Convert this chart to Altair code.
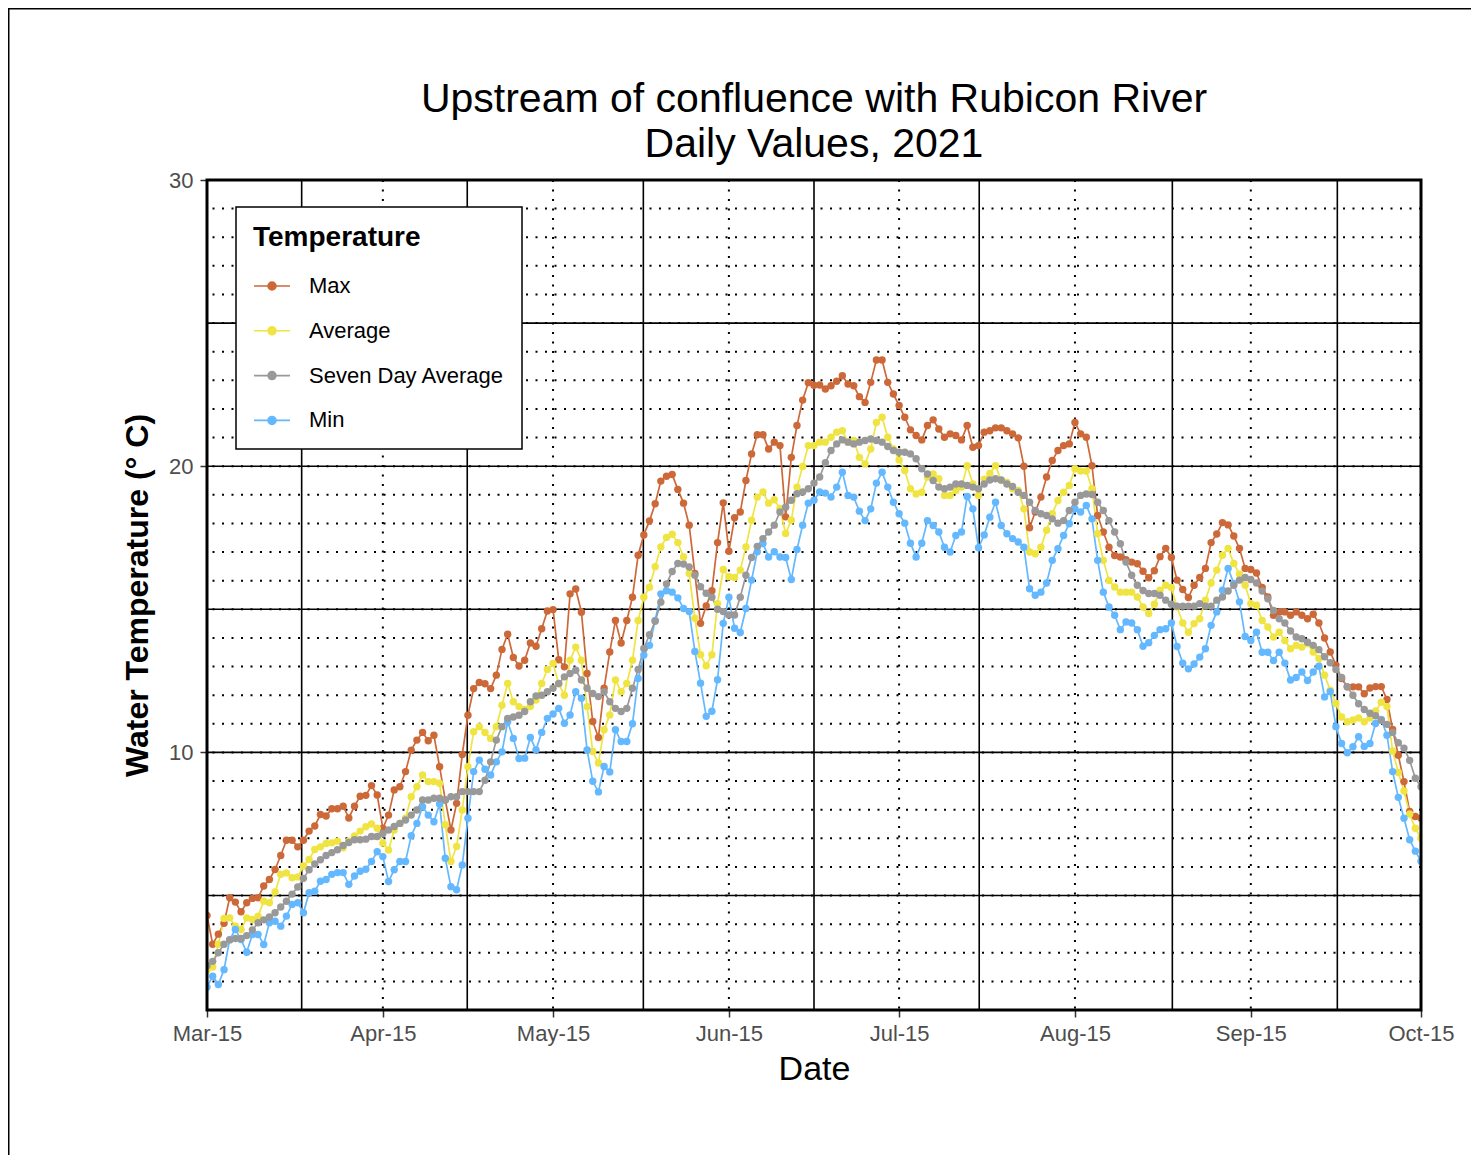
import altair as alt
import pandas as pd

# ---------------- data ----------------
series_names = ["Max", "Average", "Seven Day Average", "Min"]
series_colors = ["#CD6839", "#F0E442", "#999999", "#63B8FF"]
draw_order = ["Max", "Average", "Min", "Seven Day Average"]

title_lines = ["Upstream of confluence with Rubicon River", "Daily Values, 2021"]

max_temp = [
    4.3, 3.3, 3.65, 4.03, 4.92, 4.77, 4.43, 4.75, 4.9, 4.92, 5.33, 5.56, 5.91, 6.4, 6.93,
    6.93, 6.7, 6.93, 7.25, 7.43, 7.83, 7.78, 8.03, 8.03, 8.12, 7.71, 8.12, 8.47, 8.5, 8.84,
    8.51, 7.35, 7.81, 8.69, 8.8, 9.33, 10.08, 10.43, 10.7, 10.41, 10.6, 9.5, 8.34, 7.29, 8.22,
    9.93, 11.3, 12.23, 12.44, 12.4, 12.23, 12.7, 13.6, 14.13, 13.32, 13.02, 13.22, 13.82, 13.71, 14.32,
    14.94, 14.99, 13.24, 12.99, 15.54, 15.71, 14.9, 12.76, 11.08, 10.52, 12.24, 13.51, 14.61, 13.82, 14.61,
    15.42, 16.89, 17.6, 18.09, 18.69, 19.48, 19.65, 19.71, 19.19, 18.71, 17.94, 16.25, 14.51, 15.12, 15.65,
    17.33, 18.72, 17.03, 18.2, 18.4, 19.5, 20.43, 21.1, 21.1, 20.6, 20.84, 20.72, 18.23, 20.31, 21.42,
    22.31, 22.92, 22.83, 22.84, 22.7, 22.81, 22.97, 23.16, 22.87, 22.81, 22.43, 22.23, 22.93, 23.71, 23.71,
    22.93, 22.52, 22.12, 21.71, 21.27, 21.07, 20.92, 21.42, 21.62, 21.3, 21.01, 21.13, 21.07, 20.92, 21.42,
    20.66, 20.72, 21.19, 21.24, 21.34, 21.34, 21.24, 21.13, 20.99, 20.0, 17.85, 18.4, 18.92, 19.62, 20.2,
    20.55, 20.72, 20.78, 21.53, 21.13, 21.01, 20.02, 18.28, 17.7, 17.17, 16.88, 16.83, 16.73, 16.65, 16.59,
    16.33, 16.1, 16.35, 16.84, 17.13, 16.81, 16.02, 15.69, 15.41, 15.84, 16.11, 16.43, 17.33, 17.63, 18.03,
    17.95, 17.56, 17.13, 16.43, 16.39, 16.27, 15.76, 15.43, 14.79, 14.91, 14.91, 14.79, 14.91, 14.79, 14.67,
    14.83, 14.52, 14.0, 13.51, 13.05, 12.58, 12.29, 12.29, 12.29, 12.05, 12.25, 12.3, 12.3, 11.85, 10.8,
    9.9, 8.98, 7.94, 7.76, 7.7,
]

avg_temp = [
    2.4, 2.5, 3.3, 4.2, 4.22, 3.93, 3.81, 4.22, 4.16, 4.28, 4.8, 4.75, 5.12, 5.74, 5.79,
    5.62, 5.65, 6.03, 6.26, 6.61, 6.7, 6.82, 6.84, 6.9, 6.67, 6.9, 7.08, 7.25, 7.4, 7.5,
    7.35, 6.83, 6.59, 7.29, 7.52, 7.7, 8.45, 8.8, 9.21, 8.98, 8.98, 8.92, 7.47, 6.19, 6.71,
    7.99, 9.5, 10.72, 10.9, 10.7, 10.49, 10.9, 11.65, 12.41, 11.77, 11.6, 11.5, 11.6, 11.83, 12.41,
    12.9, 13.11, 12.4, 12.0, 13.22, 13.68, 13.22, 11.6, 10.03, 9.63, 10.79, 11.31, 12.53, 12.12, 12.41,
    13.22, 14.61, 15.42, 15.77, 16.49, 17.18, 17.51, 17.62, 17.33, 16.83, 16.25, 14.69, 13.41, 13.03, 13.41,
    15.2, 16.39, 16.14, 16.11, 16.37, 17.18, 18.11, 18.92, 19.1, 18.71, 18.83, 18.52, 17.65, 18.11, 19.27,
    19.99, 20.72, 20.72, 20.84, 20.84, 21.01, 21.19, 21.24, 20.84, 20.9, 20.31, 20.08, 20.6, 21.53, 21.71,
    21.01, 20.6, 20.22, 19.85, 19.21, 19.03, 19.09, 19.62, 19.73, 19.56, 18.98, 18.98, 19.15, 19.27, 20.02,
    19.38, 18.98, 19.55, 19.75, 20.02, 19.5, 19.44, 19.21, 19.15, 18.51, 17.0, 16.94, 17.17, 17.76, 18.34,
    18.8, 19.09, 19.33, 19.91, 19.83, 19.83, 19.21, 17.64, 16.71, 16.01, 15.78, 15.6, 15.6, 15.6, 15.43,
    15.08, 14.85, 15.18, 15.67, 15.84, 15.76, 15.08, 14.52, 14.2, 14.5, 14.67, 15.32, 15.92, 16.37, 16.89,
    17.13, 16.6, 16.23, 15.84, 15.2, 15.14, 14.61, 14.38, 14.03, 14.2, 13.91, 13.62, 13.74, 13.68, 13.8,
    13.51, 13.28, 12.7, 12.17, 11.71, 11.24, 11.07, 11.13, 11.2, 11.07, 11.2, 11.45, 11.75, 11.6, 10.05,
    9.3, 8.65, 7.85, 7.35, 7.0,
]

seven_day_avg = [
    2.55, 2.7, 3.0, 3.3, 3.45, 3.5, 3.5, 3.6, 3.8, 4.05, 4.15, 4.25, 4.4, 4.6, 4.8,
    5.05, 5.3, 5.6, 5.9, 6.1, 6.25, 6.4, 6.5, 6.6, 6.75, 6.85, 6.95, 6.95, 6.97, 7.06,
    7.06, 7.17, 7.29, 7.41, 7.52, 7.64, 7.81, 7.99, 8.34, 8.34, 8.4, 8.4, 8.34, 8.45, 8.45,
    8.63, 8.63, 8.63, 8.63, 9.03, 9.67, 10.43, 10.9, 11.19, 11.24, 11.3, 11.43, 11.77, 11.97, 12.0,
    12.12, 12.24, 12.41, 12.64, 12.76, 12.87, 12.53, 12.24, 12.06, 11.95, 12.12, 11.77, 11.54, 11.43, 11.54,
    12.24, 12.9, 13.63, 14.11, 14.58, 15.25, 15.89, 16.32, 16.6, 16.58, 16.48, 16.19, 15.79, 15.56, 15.42,
    15.0, 14.92, 14.8, 14.8, 15.42, 16.19, 16.81, 17.2, 17.47, 17.7, 17.94, 18.4, 18.57, 18.81, 19.04,
    19.1, 19.21, 19.41, 19.62, 20.12, 20.55, 20.78, 20.92, 20.84, 20.78, 20.84, 20.9, 20.95, 20.9, 20.84,
    20.69, 20.55, 20.49, 20.49, 20.43, 20.26, 19.91, 19.73, 19.5, 19.27, 19.21, 19.27, 19.38, 19.38, 19.33,
    19.27, 19.21, 19.38, 19.52, 19.56, 19.52, 19.38, 19.29, 19.09, 18.98, 18.74, 18.45, 18.34, 18.28, 18.16,
    18.01, 18.1, 18.45, 18.74, 18.98, 19.03, 19.01, 18.74, 18.45, 18.1, 17.7, 17.29, 16.65, 16.19, 15.84,
    15.66, 15.55, 15.55, 15.49, 15.32, 15.18, 15.11, 15.11, 15.11, 15.11, 15.2, 15.11, 15.11, 15.32, 15.43,
    15.64, 15.84, 16.02, 16.11, 16.04, 15.92, 15.64, 15.37, 14.96, 14.67, 14.52, 14.24, 14.03, 13.97, 13.85,
    13.74, 13.59, 13.34, 13.13, 12.9, 12.62, 12.29, 12.0, 11.7, 11.5, 11.37, 11.28, 11.12, 10.98, 10.7,
    10.34, 10.15, 9.72, 9.1, 8.8,
]

min_temp = [
    1.8, 2.18, 1.89, 2.41, 3.46, 3.81, 3.46, 3.02, 3.64, 3.64, 3.29, 4.05, 4.1, 3.93, 4.28,
    4.69, 4.75, 4.4, 5.1, 5.15, 5.5, 5.56, 5.74, 5.8, 5.8, 5.39, 5.68, 5.85, 5.92, 6.19,
    6.53, 6.36, 5.49, 5.9, 6.19, 6.19, 7.09, 7.52, 8.1, 7.81, 7.58, 8.2, 6.3, 5.31, 5.2,
    6.07, 7.7, 9.33, 9.73, 9.41, 9.21, 9.67, 10.02, 11.07, 10.49, 9.79, 9.8, 10.52, 10.09, 10.7,
    11.19, 11.34, 11.54, 11.02, 11.31, 12.12, 11.89, 10.09, 8.99, 8.62, 9.51, 9.32, 10.79, 10.38, 10.38,
    11.0, 12.58, 13.4, 13.74, 14.61, 15.54, 15.65, 15.6, 15.4, 15.03, 14.92, 13.53, 12.42, 11.26, 11.44,
    12.54, 14.51, 15.42, 14.34, 14.19, 15.03, 16.02, 17.01, 17.3, 16.83, 17.01, 16.83, 16.81, 16.04, 17.09,
    17.94, 18.71, 18.81, 19.1, 19.06, 18.92, 19.27, 19.79, 18.98, 18.92, 18.43, 18.1, 18.51, 19.41, 19.79,
    19.27, 18.74, 18.34, 18.01, 17.31, 16.83, 17.31, 18.1, 17.93, 17.7, 17.17, 17.0, 17.58, 17.7, 18.94,
    18.51, 17.15, 17.6, 18.22, 18.74, 17.93, 17.64, 17.47, 17.35, 17.17, 15.72, 15.49, 15.6, 15.92, 16.71,
    17.12, 17.58, 17.99, 18.51, 18.4, 18.63, 18.16, 16.71, 15.6, 15.08, 14.79, 14.29, 14.56, 14.52, 14.29,
    13.71, 13.83, 14.09, 14.29, 14.32, 14.52, 13.7, 13.12, 12.92, 13.09, 13.33, 13.62, 14.44, 14.91, 15.67,
    16.43, 15.9, 15.26, 14.05, 13.91, 14.2, 13.5, 13.5, 13.21, 13.5, 13.12, 12.53, 12.62, 12.81, 12.51,
    12.81, 13.01, 11.94, 12.12, 10.9, 10.31, 9.99, 10.2, 10.55, 10.21, 10.31, 11.01, 11.15, 10.6, 9.33,
    8.43, 7.7, 6.95, 6.55, 6.2,
]

start_date = "2021-03-15"
dates = pd.date_range(start_date, periods=len(max_temp), freq="D").strftime("%Y-%m-%d").tolist()

# axis / grid values
x_tick_months = [3, 4, 5, 6, 7, 8, 9, 10]          # labels on the 15th of each month
y_tick_values = [10, 20, 30]
y_minor_grid = list(range(1, 31))
y_major_grid = [5, 10, 15, 20, 25, 30]
x_minor_grid = ["2021-04-15", "2021-05-15", "2021-06-15", "2021-07-15", "2021-08-15", "2021-09-15"]
x_major_grid = ["2021-03-31T16:30:00Z", "2021-04-29T21:00:00Z", "2021-05-30T22:00:00Z",
                "2021-06-30T00:00:00Z", "2021-07-29T03:00:00Z", "2021-09-01T04:00:00Z",
                "2021-09-30T06:00:00Z"]

values_by_series = {"Max": max_temp, "Average": avg_temp,
                    "Seven Day Average": seven_day_avg, "Min": min_temp}
rows = []
for name in draw_order:
    for d, v in zip(dates, values_by_series[name]):
        rows.append({"date": d, "temp": v, "series": name})
df = pd.DataFrame(rows)

# ---------------- styling ----------------
FONT = "Liberation Sans"
W, H = 1214, 830

x_scale = alt.Scale(type="utc",
                    domain=[alt.DateTime(year=2021, month=3, date=15, utc=True),
                            alt.DateTime(year=2021, month=10, date=15, utc=True)])
y_scale = alt.Scale(domain=[1, 30], nice=False, zero=False)

x_axis = alt.Axis(
    values=[alt.DateTime(year=2021, month=m, date=15, utc=True) for m in x_tick_months],
    format="%b-%d", labelFont=FONT, labelFontSize=22, labelColor="#4D4D4D",
    labelPadding=6, labelOverlap=False, labelFlush=False,
    tickSize=7, tickColor="#333333", tickWidth=1.5, domain=False, grid=False,
    title="Date", titleFont=FONT, titleFontSize=34, titleFontWeight="normal",
    titleColor="black", titlePadding=8,
)
y_axis = alt.Axis(
    values=y_tick_values, format="d", labelFont=FONT, labelFontSize=22,
    labelColor="#4D4D4D", labelPadding=7, tickSize=7, tickColor="#333333",
    tickWidth=1.5, domain=False, grid=False,
    title="Water Temperature (° C)", titleFont=FONT, titleFontSize=32,
    titleFontWeight="bold", titleColor="black", titlePadding=14,
)

def ring(r):
    return f"M{-r},0A{r},{r} 0 1,1 {r},0A{r},{r} 0 1,1 {-r},0"

legend_symbol = "M-1,0L1,0" + "".join(ring(r) for r in [0.04, 0.1, 0.16, 0.22])

color_scale = alt.Scale(domain=series_names, range=series_colors)

legend = alt.Legend(
    orient="none", legendX=29, legendY=27,
    title="Temperature", titleFont=FONT, titleFontSize=28, titleFontWeight="bold",
    titleColor="black", titlePadding=15,
    labelFont=FONT, labelFontSize=22, labelColor="black", labelOffset=18, labelLimit=400,
    symbolType=legend_symbol, symbolSize=1296, symbolStrokeWidth=1.6,
    padding=17, rowPadding=14.8, strokeColor="black", fillColor="white",
)

# ---------------- layers ----------------
dot_h = alt.Chart(pd.DataFrame({"v": y_minor_grid})).mark_rule(
    color="black", strokeWidth=2, strokeDash=[2, 7.5]
).encode(y=alt.Y("v:Q", scale=y_scale, axis=y_axis))

dot_v = alt.Chart(pd.DataFrame({"d": x_minor_grid})).mark_rule(
    color="black", strokeWidth=2, strokeDash=[2, 7.5]
).encode(x=alt.X("d:T", scale=x_scale, axis=x_axis))

solid_h = alt.Chart(pd.DataFrame({"v": y_major_grid})).mark_rule(
    color="black", strokeWidth=1.6
).encode(y=alt.Y("v:Q", scale=y_scale, axis=y_axis))

solid_v = alt.Chart(pd.DataFrame({"d": x_major_grid})).mark_rule(
    color="black", strokeWidth=1.6
).encode(x=alt.X("d:T", scale=x_scale, axis=x_axis))

lines = alt.Chart(df).mark_line(strokeWidth=1.7, clip=True).encode(
    x=alt.X("date:T", scale=x_scale, axis=x_axis),
    y=alt.Y("temp:Q", scale=y_scale, axis=y_axis),
    color=alt.Color("series:N", scale=color_scale, legend=legend),
    detail="series:N",
)

points = alt.Chart(df).mark_point(filled=True, size=55, opacity=1, clip=True).encode(
    x=alt.X("date:T", scale=x_scale, axis=x_axis),
    y=alt.Y("temp:Q", scale=y_scale, axis=y_axis),
    color=alt.Color("series:N", scale=color_scale, legend=None),
)

panel_border = alt.Chart(alt.Data(values=[{}])).mark_rect(
    filled=False, stroke="black", strokeWidth=3
).encode(x=alt.value(0), x2=alt.value(W), y=alt.value(0), y2=alt.value(H))

figure_border = alt.Chart(alt.Data(values=[{}])).mark_rect(
    filled=False, stroke="black", strokeWidth=1.5
).encode(x=alt.value(-198.25), x2=alt.value(3000), y=alt.value(-171.25), y2=alt.value(3000))

title_df = pd.DataFrame({"line": title_lines, "row": [0, 1]})
title_text = alt.Chart(title_df).mark_text(
    font=FONT, fontSize=41, color="black", align="center", baseline="alphabetic"
).encode(
    x=alt.value(W / 2),
    y=alt.YValue(alt.ExprRef("datum.row == 0 ? -68 : -23")),
    text="line:N",
)

chart = alt.layer(
    dot_h, dot_v, solid_h, solid_v, lines, points, panel_border, figure_border, title_text
).properties(
    width=W, height=H,
    autosize=alt.AutoSizeParams(type="none"),
    padding={"left": 199, "top": 172, "right": 50, "bottom": 145},
    background="white",
).configure_view(stroke=None).configure_legend(strokeWidth=1.5)

chart.save("out.html", embed_options={"renderer": "svg", "actions": False})
